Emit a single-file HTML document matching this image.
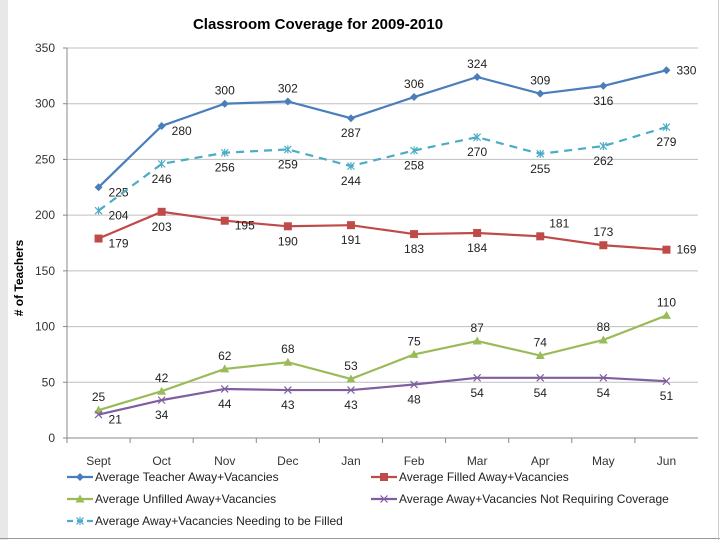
<!DOCTYPE html>
<html><head><meta charset="utf-8"><style>
body{margin:0;background:#fff;}
svg{display:block;font-family:"Liberation Sans",sans-serif;}
</style></head><body>
<svg id="chart" width="720" height="540">
<rect x="0" y="0" width="720" height="540" fill="#fff"/>
<rect x="0" y="0" width="8" height="540" fill="#e8e8e8"/>
<line x1="0" y1="538.5" x2="720" y2="538.5" stroke="#999"/>
<line x1="718.5" y1="0" x2="718.5" y2="540" stroke="#ccc"/>
<text x="318" y="29" text-anchor="middle" font-size="15" font-weight="bold" fill="#000">Classroom Coverage for 2009-2010</text>
<text transform="translate(23,278) rotate(-90)" text-anchor="middle" font-size="12" font-weight="bold"># of Teachers</text>
<g id="grid"></g><g id="axes"></g><g id="series"></g><g id="legend"></g>
</svg>
<script>
const categories=["Sept","Oct","Nov","Dec","Jan","Feb","Mar","Apr","May","Jun"];
const yTicks=[0,50,100,150,200,250,300,350];
const teacher=[225,280,300,302,287,306,324,309,316,330];
const filled=[179,203,195,190,191,183,184,181,173,169];
const unfilled=[25,42,62,68,53,75,87,74,88,110];
const notReq=[21,34,44,43,43,48,54,54,54,51];
const needing=[204,246,256,259,244,258,270,255,262,279];
const teacherLbl=["r","r","a","a","b","a","a","a","b","r"];
const filledLbl=["r","b","r","b","b","b","b","ar","a","r"];
const unfilledLbl=["a","a","a","a","a","a","a","a","a","a"];
const notReqLbl=["r","b","b","b","b","b","b","b","b","b"];
const needingLbl=["r","b","b","b","b","b","b","b","b","b"];

const NS="http://www.w3.org/2000/svg";
const L=67,R=698,T=48,B=438,maxY=350;
const step=(R-L)/categories.length;
const xs=i=>L+step*(i+0.5);
const ys=v=>B-(v/maxY)*(B-T);
function mk(tag,attrs,parent){const e=document.createElementNS(NS,tag);for(const k in attrs)e.setAttribute(k,attrs[k]);parent.appendChild(e);return e;}
const grid=document.getElementById('grid'),axes=document.getElementById('axes'),ser=document.getElementById('series'),leg=document.getElementById('legend');
yTicks.forEach(t=>{
  if(t>0){const g=mk('line',{x1:L,x2:R,y1:ys(t),y2:ys(t),stroke:'#bfbfbf'},grid);
  
  }
  const tk=mk('line',{x1:L-4,x2:L,y1:ys(t),y2:ys(t),stroke:'#888'},axes);
  
  
  const tx=mk('text',{x:L-12,y:ys(t)+4,'text-anchor':'end','font-size':12,fill:'#333'},axes);
  tx.textContent=t;
  
  
});
const ya=mk('line',{x1:L,x2:L,y1:T,y2:B,stroke:'#888'},axes);


const xa=mk('line',{x1:L,x2:R,y1:B,y2:B,stroke:'#888'},axes);


categories.forEach((c,i)=>{
  const tk=mk('line',{x1:L+step*i,x2:L+step*i,y1:B,y2:B+5,stroke:'#888'},axes);
  
  
  const tx=mk('text',{x:xs(i),y:B+27,'text-anchor':'middle','font-size':12,fill:'#333'},axes);
  tx.textContent=c;
  
  
});
function marker(type,x,y,color,g){
  if(type==='diamond')return mk('path',{d:`M${x} ${y-4}L${x+4} ${y}L${x} ${y+4}L${x-4} ${y}Z`,fill:color},g);
  if(type==='square')return mk('rect',{x:x-4,y:y-4,width:8,height:8,fill:color},g);
  if(type==='triangle')return mk('path',{d:`M${x} ${y-4.5}L${x+4.5} ${y+3.5}L${x-4.5} ${y+3.5}Z`,fill:color},g);
  const s=mk('path',{d:`M${x-3.5} ${y-3.5}L${x+3.5} ${y+3.5}M${x+3.5} ${y-3.5}L${x-3.5} ${y+3.5}`+(type==='star'?`M${x} ${y-4}L${x} ${y+4}`:''),stroke:color,'stroke-width':1.2,fill:'none'},g);
  return s;
}
const seriesDefs=[
  {name:'teacher',data:teacher,lbl:teacherLbl,color:'#4a7ebb',m:'diamond',dash:null},
  {name:'needing',data:needing,lbl:needingLbl,color:'#4bacc6',m:'star',dash:'8,6'},
  {name:'filled',data:filled,lbl:filledLbl,color:'#be4b48',m:'square',dash:null},
  {name:'unfilled',data:unfilled,lbl:unfilledLbl,color:'#9bbb59',m:'triangle',dash:null},
  {name:'not-requiring',data:notReq,lbl:notReqLbl,color:'#7f5f9f',m:'x',dash:null}
];
seriesDefs.forEach(s=>{
  const g=mk('g',{},ser);
  
  
  const pts=s.data.map((v,i)=>xs(i)+','+ys(v)).join(' ');
  const pl=mk('polyline',{points:pts,fill:'none',stroke:s.color,'stroke-width':2.2},g);
  if(s.dash)pl.setAttribute('stroke-dasharray',s.dash);
  
  
  s.data.forEach((v,i)=>{
    const x=xs(i),y=ys(v);
    const mm=marker(s.m,x,y,s.color,g);
    
    
    const p=s.lbl[i];let lx=x,ly=y,anc='middle';
    if(p==='a'){ly=y-9;}
    else if(p==='b'){ly=y+19;}
    else if(p==='r'){lx=x+10;ly=y+9;anc='start';if(i===categories.length-1){ly=y+4;}}
    else if(p==='ar'){lx=x+9;ly=y-9;anc='start';}
    const t=mk('text',{x:lx,y:ly,'text-anchor':anc,'font-size':12,fill:'#222'},g);
    t.textContent=v;
    
    
  });
});
const legendItems=[
  {s:0,text:'Average Teacher Away+Vacancies',x:67,y:477},
  {s:2,text:'Average Filled Away+Vacancies',x:371,y:477},
  {s:3,text:'Average Unfilled Away+Vacancies',x:67,y:499},
  {s:4,text:'Average Away+Vacancies Not Requiring Coverage',x:371,y:499},
  {s:1,text:'Average Away+Vacancies Needing to be Filled',x:67,y:521}
];
legendItems.forEach(it=>{
  const s=seriesDefs[it.s];
  const g=mk('g',{},leg);
  
  
  const ln=mk('line',{x1:it.x,x2:it.x+26,y1:it.y,y2:it.y,stroke:s.color,'stroke-width':2.2},g);
  if(s.dash)ln.setAttribute('stroke-dasharray','6,4');
  marker(s.m,it.x+13,it.y,s.color,g);
  const t=mk('text',{x:it.x+28,y:it.y+4,'font-size':12,fill:'#222'},g);
  t.textContent=it.text;
});
</script>
</body></html>
